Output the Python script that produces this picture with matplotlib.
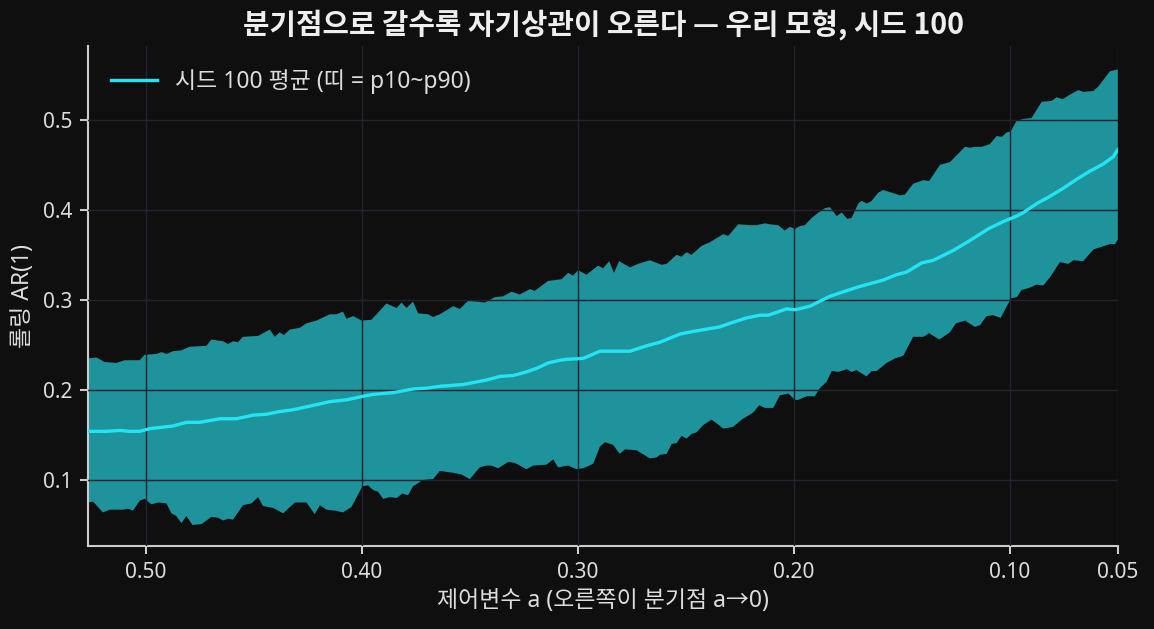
import numpy as np
import matplotlib
matplotlib.use('Agg')
import matplotlib.pyplot as plt

plt.rcParams['font.family'] = ['Noto Sans', 'Noto Sans CJK KR', 'DejaVu Sans']
plt.rcParams['axes.unicode_minus'] = False

# p90 (upper edge of band)
a_hi = [0.5267, 0.5228, 0.5190, 0.5136, 0.5097, 0.5028, 0.5005, 0.4950, 0.4927, 0.4904,
        0.4874, 0.4835, 0.4796, 0.4719, 0.4696, 0.4642, 0.4619, 0.4596, 0.4573, 0.4550,
        0.4480, 0.4426, 0.4403, 0.4380, 0.4361, 0.4333, 0.4287, 0.4256, 0.4210, 0.4148,
        0.4117, 0.4087, 0.4071, 0.4040, 0.4001, 0.3955, 0.3886, 0.3839, 0.3816, 0.3793,
        0.3763, 0.3739, 0.3693, 0.3670, 0.3639, 0.3577, 0.3546, 0.3508, 0.3462, 0.3431,
        0.3384, 0.3346, 0.3307, 0.3269, 0.3222, 0.3199, 0.3138, 0.3075, 0.3045, 0.3022,
        0.2999, 0.2960, 0.2906, 0.2883, 0.2855, 0.2833, 0.2809, 0.2759, 0.2721, 0.2667,
        0.2612, 0.2589, 0.2543, 0.2520, 0.2497, 0.2474, 0.2427, 0.2389, 0.2327, 0.2304,
        0.2258, 0.2204, 0.2173, 0.2134, 0.2111, 0.2073, 0.2042, 0.2019, 0.1995, 0.1972,
        0.1949, 0.1918, 0.1880, 0.1856, 0.1833, 0.1802, 0.1779, 0.1753, 0.1733, 0.1702,
        0.1687, 0.1663, 0.1640, 0.1610, 0.1587, 0.1532, 0.1509, 0.1486, 0.1448, 0.1401,
        0.1374, 0.1324, 0.1278, 0.1208, 0.1185, 0.1162, 0.1131, 0.1093, 0.1062, 0.1038,
        0.1015, 0.0997, 0.0969, 0.0938, 0.0900, 0.0853, 0.0807, 0.0784, 0.0756, 0.0722,
        0.0684, 0.0661, 0.0614, 0.0591, 0.0537, 0.0500]
p90 = [0.235, 0.236, 0.231, 0.230, 0.233, 0.233, 0.239, 0.240, 0.242, 0.240,
       0.243, 0.244, 0.248, 0.249, 0.256, 0.254, 0.251, 0.254, 0.253, 0.259,
       0.260, 0.267, 0.259, 0.264, 0.261, 0.267, 0.269, 0.274, 0.277, 0.284,
       0.284, 0.287, 0.279, 0.282, 0.277, 0.278, 0.296, 0.291, 0.297, 0.291,
       0.298, 0.285, 0.284, 0.281, 0.284, 0.293, 0.290, 0.299, 0.298, 0.297,
       0.303, 0.304, 0.309, 0.306, 0.312, 0.310, 0.321, 0.323, 0.330, 0.327,
       0.333, 0.328, 0.338, 0.335, 0.343, 0.330, 0.343, 0.336, 0.340, 0.344,
       0.339, 0.340, 0.350, 0.348, 0.353, 0.350, 0.360, 0.364, 0.373, 0.371,
       0.384, 0.383, 0.383, 0.385, 0.384, 0.383, 0.377, 0.381, 0.379, 0.382,
       0.383, 0.391, 0.398, 0.402, 0.403, 0.393, 0.397, 0.390, 0.391, 0.407,
       0.410, 0.407, 0.410, 0.419, 0.422, 0.418, 0.416, 0.417, 0.429, 0.433,
       0.432, 0.450, 0.453, 0.470, 0.469, 0.470, 0.470, 0.473, 0.482, 0.481,
       0.486, 0.487, 0.499, 0.501, 0.502, 0.520, 0.521, 0.525, 0.523, 0.528,
       0.533, 0.531, 0.532, 0.537, 0.554, 0.556]

# p10 (lower edge of band)
a_lo = [0.5267, 0.5244, 0.5198, 0.5167, 0.5105, 0.5082, 0.5059, 0.5028, 0.5005, 0.4974,
        0.4943, 0.4904, 0.4881, 0.4858, 0.4835, 0.4812, 0.4784, 0.4742, 0.4696, 0.4665,
        0.4642, 0.4619, 0.4596, 0.4550, 0.4511, 0.4480, 0.4457, 0.4411, 0.4364, 0.4310,
        0.4256, 0.4218, 0.4194, 0.4164, 0.4125, 0.4087, 0.4048, 0.3997, 0.3971, 0.3948,
        0.3925, 0.3901, 0.3870, 0.3839, 0.3812, 0.3786, 0.3763, 0.3716, 0.3670, 0.3639,
        0.3577, 0.3538, 0.3500, 0.3454, 0.3423, 0.3400, 0.3369, 0.3323, 0.3292, 0.3238,
        0.3207, 0.3145, 0.3114, 0.3091, 0.3045, 0.3006, 0.2975, 0.2929, 0.2898, 0.2875,
        0.2837, 0.2806, 0.2782, 0.2728, 0.2667, 0.2636, 0.2620, 0.2589, 0.2566, 0.2543,
        0.2520, 0.2497, 0.2474, 0.2450, 0.2420, 0.2381, 0.2358, 0.2327, 0.2281, 0.2242,
        0.2188, 0.2161, 0.2134, 0.2096, 0.2065, 0.2026, 0.1995, 0.1980, 0.1941, 0.1903,
        0.1880, 0.1849, 0.1825, 0.1795, 0.1756, 0.1733, 0.1710, 0.1664, 0.1640, 0.1617,
        0.1571, 0.1532, 0.1494, 0.1448, 0.1401, 0.1374, 0.1327, 0.1278, 0.1250, 0.1208,
        0.1162, 0.1139, 0.1108, 0.1077, 0.1043, 0.1008, 0.0992, 0.0969, 0.0946, 0.0915,
        0.0876, 0.0846, 0.0815, 0.0769, 0.0730, 0.0707, 0.0661, 0.0614, 0.0575, 0.0537,
        0.0514, 0.0500]
p10 = [0.075, 0.076, 0.064, 0.067, 0.067, 0.068, 0.066, 0.077, 0.079, 0.073,
       0.075, 0.074, 0.063, 0.060, 0.052, 0.060, 0.050, 0.051, 0.059, 0.058,
       0.055, 0.057, 0.056, 0.072, 0.074, 0.081, 0.071, 0.069, 0.063, 0.075,
       0.075, 0.062, 0.072, 0.067, 0.066, 0.064, 0.070, 0.093, 0.094, 0.089,
       0.087, 0.079, 0.081, 0.080, 0.085, 0.083, 0.093, 0.100, 0.101, 0.110,
       0.108, 0.106, 0.101, 0.114, 0.116, 0.116, 0.113, 0.120, 0.119, 0.112,
       0.116, 0.117, 0.123, 0.114, 0.116, 0.112, 0.113, 0.118, 0.137, 0.142,
       0.139, 0.129, 0.134, 0.133, 0.124, 0.125, 0.128, 0.129, 0.140, 0.141,
       0.149, 0.146, 0.151, 0.153, 0.161, 0.167, 0.163, 0.157, 0.159, 0.167,
       0.175, 0.183, 0.180, 0.180, 0.194, 0.196, 0.189, 0.189, 0.193, 0.193,
       0.202, 0.209, 0.221, 0.220, 0.223, 0.220, 0.222, 0.215, 0.221, 0.221,
       0.230, 0.235, 0.238, 0.259, 0.259, 0.263, 0.256, 0.264, 0.274, 0.277,
       0.270, 0.272, 0.282, 0.283, 0.280, 0.296, 0.302, 0.303, 0.311, 0.313,
       0.317, 0.316, 0.325, 0.342, 0.340, 0.344, 0.343, 0.356, 0.359, 0.362,
       0.362, 0.367]

# seed-100 mean
a_mean = [0.5267, 0.5182, 0.5120, 0.5074, 0.5028, 0.4981, 0.4873, 0.4812, 0.4750, 0.4657,
          0.4580, 0.4503, 0.4441, 0.4380, 0.4318, 0.4241, 0.4148, 0.4071, 0.3994, 0.3948,
          0.3855, 0.3763, 0.3700, 0.3639, 0.3531, 0.3423, 0.3361, 0.3299, 0.3238, 0.3191,
          0.3137, 0.3083, 0.3052, 0.2975, 0.2898, 0.2806, 0.2759, 0.2682, 0.2620, 0.2528,
          0.2466, 0.2343, 0.2296, 0.2219, 0.2157, 0.2119, 0.2034, 0.1995, 0.1926, 0.1833,
          0.1772, 0.1694, 0.1587, 0.1525, 0.1478, 0.1409, 0.1355, 0.1262, 0.1185, 0.1100,
          0.1031, 0.0969, 0.0938, 0.0876, 0.0815, 0.0753, 0.0691, 0.0630, 0.0568, 0.0522,
          0.0500]
ar_mean = [0.154, 0.154, 0.155, 0.154, 0.154, 0.157, 0.160, 0.164, 0.164, 0.168,
           0.168, 0.172, 0.173, 0.176, 0.178, 0.182, 0.187, 0.189, 0.193, 0.195,
           0.197, 0.201, 0.202, 0.204, 0.206, 0.211, 0.215, 0.216, 0.220, 0.224,
           0.230, 0.233, 0.234, 0.235, 0.243, 0.243, 0.243, 0.249, 0.253, 0.262,
           0.265, 0.270, 0.274, 0.280, 0.283, 0.283, 0.290, 0.289, 0.293, 0.304,
           0.309, 0.315, 0.322, 0.328, 0.331, 0.341, 0.344, 0.355, 0.366, 0.379,
           0.387, 0.393, 0.397, 0.407, 0.415, 0.424, 0.434, 0.443, 0.451, 0.459,
           0.467]

xticks = [0.50, 0.40, 0.30, 0.20, 0.10, 0.05]
yticks = [0.1, 0.2, 0.3, 0.4, 0.5]

bg = '#0f0f10'
fg = '#dcdcdc'
cyan = '#22e4f4'
band = '#1f939c'

fig, ax = plt.subplots(figsize=(1154 / 150, 629 / 150), dpi=150)
fig.patch.set_facecolor(bg)
ax.set_facecolor(bg)
fig.subplots_adjust(left=0.0763, right=0.9688, top=0.9269, bottom=0.132)

poly_x = np.concatenate([a_hi, a_lo[::-1]])
poly_y = np.concatenate([p90, p10[::-1]])
ax.fill(poly_x, poly_y, color=band, lw=0, zorder=1)
ax.plot(a_mean, ar_mean, color=cyan, lw=1.6, zorder=3,
        label='시드 100 평균 (띠 = p10~p90)')

ax.set_xlim(0.5267, 0.05)
ax.set_ylim(0.0267, 0.582)
ax.set_xticks(xticks)
ax.set_xticklabels([f'{t:.2f}' for t in xticks])
ax.set_yticks(yticks)
ax.set_yticklabels([f'{t:.1f}' for t in yticks])

ax.grid(True, color='#23232f', lw=0.7, zorder=2)
ax.set_axisbelow(False)
for s in ['top', 'right']:
    ax.spines[s].set_visible(False)
for s in ['left', 'bottom']:
    ax.spines[s].set_color('#cccccc')
    ax.spines[s].set_linewidth(1.0)
ax.tick_params(colors=fg, labelsize=10, length=4, width=1, color='#cccccc')

ax.set_xlabel('제어변수 a (오른쪽이 분기점 a→0)', color=fg, fontsize=11, labelpad=3)
ax.set_ylabel('롤링 AR(1)', color=fg, fontsize=11, labelpad=4)
ax.set_title('분기점으로 갈수록 자기상관이 오른다 — 우리 모형, 시드 100',
             color='#eeeeee', fontsize=13.8, fontweight='bold', pad=6,
             family=['Noto Sans CJK KR', 'DejaVu Sans'])

leg = ax.legend(loc='upper left', frameon=False, fontsize=11, handlelength=2.0,
                borderaxespad=0.6)
for t in leg.get_texts():
    t.set_color(fg)

fig.savefig('out.png', dpi=150, facecolor=bg)
